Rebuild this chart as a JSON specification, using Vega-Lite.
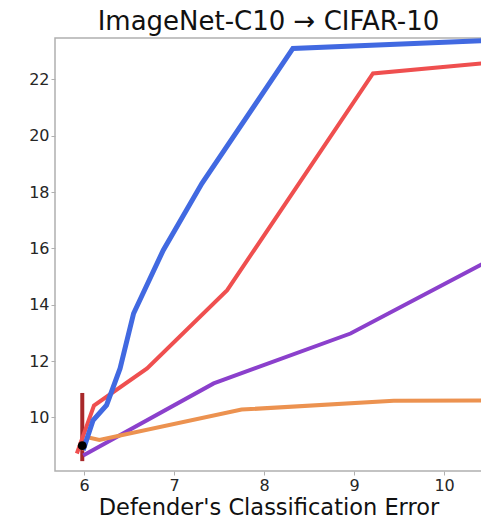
{
  "$schema": "https://vega.github.io/schema/vega-lite/v6.json",
  "autosize": "none",
  "padding": {"left": 55, "top": 38, "right": 0, "bottom": 49},
  "width": 427,
  "height": 433,
  "title": {"text": "ImageNet-C10 → CIFAR-10", "font": "DejaVu Sans", "fontSize": 26, "fontWeight": "normal", "color": "#111111", "anchor": "middle", "offset": 3},
  "config": {
    "view": {"stroke": "#b0b0b0", "strokeWidth": 1.5},
    "axis": {"grid": false, "domain": false, "tickColor": "#b0b0b0", "tickSize": 4, "labelFont": "DejaVu Sans", "labelFontSize": 16, "labelColor": "#262626", "titleFont": "DejaVu Sans", "titleFontSize": 22.5, "titleFontWeight": "normal", "titleColor": "#111111"}
  },
  "datasets": {
    "lines": [
      {"series": "blue", "x": 5.99, "y": 8.84},
      {"series": "blue", "x": 6.10, "y": 9.9},
      {"series": "blue", "x": 6.25, "y": 10.44},
      {"series": "blue", "x": 6.40, "y": 11.74},
      {"series": "blue", "x": 6.55, "y": 13.69},
      {"series": "blue", "x": 6.88, "y": 15.94},
      {"series": "blue", "x": 7.31, "y": 18.31},
      {"series": "blue", "x": 8.32, "y": 23.1},
      {"series": "blue", "x": 10.42, "y": 23.37},
      {"series": "red", "x": 5.92, "y": 8.72},
      {"series": "red", "x": 6.11, "y": 10.42},
      {"series": "red", "x": 6.70, "y": 11.74},
      {"series": "red", "x": 7.59, "y": 14.52},
      {"series": "red", "x": 9.21, "y": 22.21},
      {"series": "red", "x": 10.42, "y": 22.57},
      {"series": "purple", "x": 5.99, "y": 8.65},
      {"series": "purple", "x": 7.44, "y": 11.21},
      {"series": "purple", "x": 8.96, "y": 12.98},
      {"series": "purple", "x": 10.42, "y": 15.44},
      {"series": "orange", "x": 5.97, "y": 8.85},
      {"series": "orange", "x": 6.04, "y": 9.3},
      {"series": "orange", "x": 6.17, "y": 9.2},
      {"series": "orange", "x": 7.75, "y": 10.28},
      {"series": "orange", "x": 9.44, "y": 10.59},
      {"series": "orange", "x": 10.42, "y": 10.6}
    ],
    "bar": [{"x": 5.98, "lo": 8.45, "hi": 10.87}],
    "dot": [{"x": 5.98, "y": 9.0}]
  },
  "layer": [
    {
      "data": {"name": "bar"},
      "mark": {"type": "rule", "color": "#a8282a", "strokeWidth": 4},
      "encoding": {
        "x": {"field": "x", "type": "quantitative", "scale": {"domain": [5.677, 10.421], "nice": false, "zero": false}, "axis": {"values": [6, 7, 8, 9, 10], "format": "d", "title": "Defender's Classification Error", "labelPadding": 2, "titlePadding": 3}},
        "y": {"field": "lo", "type": "quantitative", "scale": {"domain": [8.1, 23.47], "nice": false, "zero": false}, "axis": {"values": [10, 12, 14, 16, 18, 20, 22], "format": "d", "title": null, "labelPadding": 2}},
        "y2": {"field": "hi"}
      }
    },
    {
      "data": {"name": "lines"},
      "transform": [{"filter": "datum.series === 'purple'"}],
      "mark": {"type": "line", "color": "#8b40cc", "strokeWidth": 4, "clip": true},
      "encoding": {"x": {"field": "x", "type": "quantitative"}, "y": {"field": "y", "type": "quantitative"}}
    },
    {
      "data": {"name": "lines"},
      "transform": [{"filter": "datum.series === 'orange'"}],
      "mark": {"type": "line", "color": "#ec9250", "strokeWidth": 4, "clip": true},
      "encoding": {"x": {"field": "x", "type": "quantitative"}, "y": {"field": "y", "type": "quantitative"}}
    },
    {
      "data": {"name": "lines"},
      "transform": [{"filter": "datum.series === 'red'"}],
      "mark": {"type": "line", "color": "#ef4f4f", "strokeWidth": 4, "clip": true},
      "encoding": {"x": {"field": "x", "type": "quantitative"}, "y": {"field": "y", "type": "quantitative"}}
    },
    {
      "data": {"name": "lines"},
      "transform": [{"filter": "datum.series === 'blue'"}],
      "mark": {"type": "line", "color": "#4169e1", "strokeWidth": 5, "clip": true},
      "encoding": {"x": {"field": "x", "type": "quantitative"}, "y": {"field": "y", "type": "quantitative"}}
    },
    {
      "data": {"name": "dot"},
      "mark": {"type": "point", "filled": true, "color": "#000000", "size": 80, "opacity": 1},
      "encoding": {"x": {"field": "x", "type": "quantitative"}, "y": {"field": "y", "type": "quantitative"}}
    }
  ]
}
